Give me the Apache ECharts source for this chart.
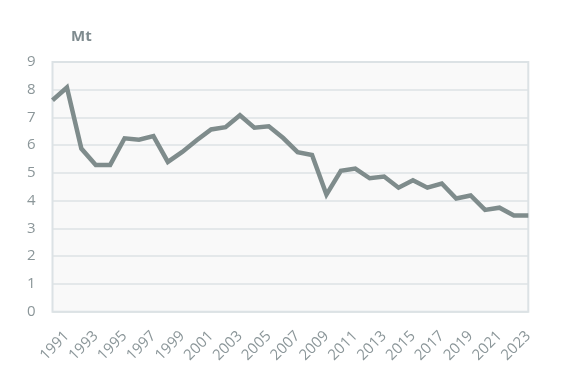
<!DOCTYPE html>
<html>
<head>
<meta charset="utf-8">
<script src="https://cdn.jsdelivr.net/npm/echarts@6/dist/echarts.min.js"></script>
<style>
html,body{margin:0;padding:0;background:#fff;}
#chart{width:567px;height:369px;}
</style>
</head>
<body>
<div id="chart"></div>
<script>
var years = ['1990','1991','1992','1993','1994','1995','1996','1997','1998','1999','2000','2001','2002','2003','2004','2005','2006','2007','2008','2009','2010','2011','2012','2013','2014','2015','2016','2017','2018','2019','2020','2021','2022','2023'];
var values = [7.62, 8.08, 5.88, 5.29, 5.29, 6.25, 6.2, 6.33, 5.4, 5.76, 6.18, 6.57, 6.65, 7.08, 6.63, 6.68, 6.26, 5.75, 5.65, 4.22, 5.08, 5.16, 4.81, 4.87, 4.47, 4.74, 4.47, 4.62, 4.08, 4.19, 3.67, 3.75, 3.47, 3.47];
var yTicks = {min: 0, max: 9, interval: 1};
var unitLabel = 'Mt';

var chart = echarts.init(document.getElementById('chart'));
var labelColor = '#8b9699';
chart.setOption({
  animation: false,
  textStyle: {fontFamily: 'Open Sans'},
  title: {
    text: unitLabel, left: 71, top: 29, padding: 0,
    textStyle: {fontSize: 15, fontWeight: 'bold', color: '#7f8b8f', fontFamily: 'Open Sans'}
  },
  grid: {
    left: 52.5, right: 38.7, top: 62, bottom: 57.3,
    show: true, backgroundColor: '#f9f9f9', borderColor: '#dce2e5', borderWidth: 2
  },
  xAxis: {
    type: 'category', data: years, boundaryGap: false,
    axisLine: {show: false}, axisTick: {show: false},
    axisLabel: {
      interval: function (i) { return i % 2 === 1; },
      rotate: 45, margin: 22, fontSize: 15, color: labelColor, fontFamily: 'Open Sans'
    },
    splitLine: {show: false}
  },
  yAxis: {
    type: 'value', min: yTicks.min, max: yTicks.max, interval: yTicks.interval,
    axisLine: {show: false}, axisTick: {show: false},
    axisLabel: {margin: 17, fontSize: 15, color: labelColor, fontFamily: 'Open Sans'},
    splitLine: {lineStyle: {color: '#dce2e5', width: 1.5}}
  },
  series: [{
    type: 'line', data: values, showSymbol: false,
    lineStyle: {color: '#7f8c8c', width: 4.5, join: 'miter'},
    itemStyle: {color: '#7f8c8c'}
  }]
});
</script>
</body>
</html>
